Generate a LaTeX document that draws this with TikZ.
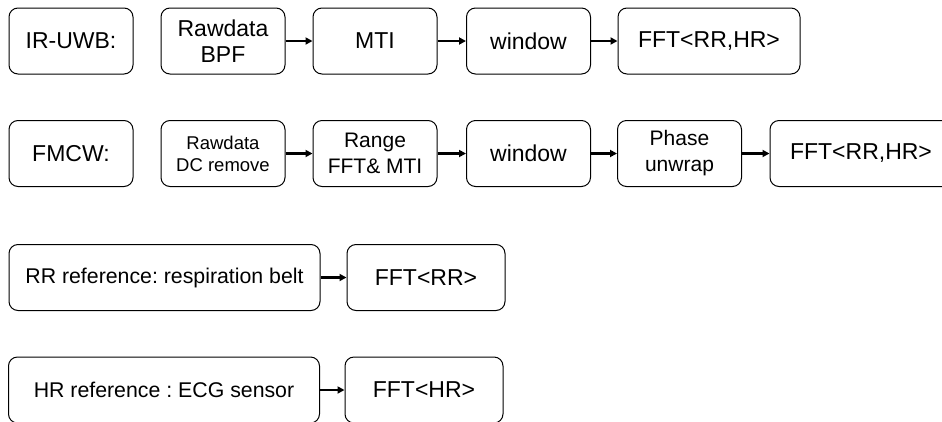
\documentclass[tikz,border=0pt]{standalone}
\usepackage{fontspec}
\setmainfont{Liberation Sans}
\frenchspacing
\usetikzlibrary{arrows.meta}
\tikzset{
    stage/.style={rectangle, draw, line width=1pt, rounded corners=9pt, align=center, inner sep=0pt, minimum height=66pt, font=\fontsize{23}{26}\selectfont},
    narrow stage/.style={stage, minimum width=124pt},
    wide stage/.style={stage, minimum width=182pt},
    ref stage/.style={stage, minimum width=311pt, font=\fontsize{21.3}{26}\selectfont},
    result stage/.style={stage, minimum width=158pt},
    mid text/.style={font=\fontsize{21}{26}\selectfont},
    small text/.style={font=\fontsize{18.5}{22}\selectfont},
    flow/.style={-{Triangle[length=7pt,width=7pt]}, line width=2.6pt}
}

\begin{document}
\begin{tikzpicture}[x=1pt, y=-1pt]
    \clip (0,0) rectangle (942,421);

    % IR-UWB chain
    \node[narrow stage] (U-0) at (71,41) {IR-UWB:};
    \node[narrow stage] (U-1) at (223,41) {Rawdata\\BPF};
    \node[narrow stage] (U-2) at (375,41) {MTI};
    \node[narrow stage] (U-3) at (528.5,41) {window};
    \node[wide stage] (U-4) at (709,41) {FFT<RR,HR>};

    % FMCW chain
    \node[narrow stage] (F-0) at (71,153.5) {FMCW:};
    \node[narrow stage, small text] (F-1) at (223,153.5) {Rawdata\\DC remove};
    \node[narrow stage, mid text] (F-2) at (375,153.5) {Range\\FFT\& MTI};
    \node[narrow stage] (F-3) at (528.5,153.5) {window};
    \node[narrow stage, mid text] (F-4) at (679.5,153.5) {Phase\\unwrap};
    \node[wide stage] (F-5) at (861,153.5) {FFT<RR,HR>};

    % reference sensors
    \node[ref stage] (R-0) at (164.5,277.5) {RR reference: respiration belt};
    \node[result stage] (R-1) at (426,277.5) {FFT<RR>};
    \node[ref stage] (H-0) at (164,390) {HR reference : ECG sensor};
    \node[result stage] (H-1) at (424,390) {FFT<HR>};

    % Connections
    \foreach \i [evaluate=\i as \j using int(\i+1)] in {1,2,3} {
        \draw[flow] (U-\i) -- (U-\j);
    }
    \foreach \i [evaluate=\i as \j using int(\i+1)] in {1,2,3,4} {
        \draw[flow] (F-\i) -- (F-\j);
    }
    \draw[flow] (R-0) -- (R-1);
    \draw[flow] (H-0) -- (H-1);
\end{tikzpicture}
\end{document}
